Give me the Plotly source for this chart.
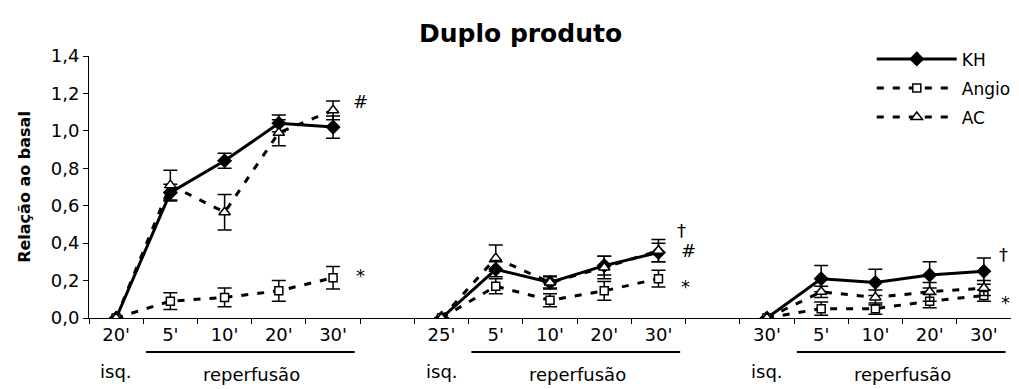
import plotly.graph_objects as go

categories = ["20'", "5'", "10'", "20'", "30'", "", "25'", "5'", "10'", "20'", "30'", "", "30'", "5'", "10'", "20'", "30'"]

kh = [0, 0.67, 0.84, 1.04, 1.02, None, 0, 0.26, 0.19, 0.28, 0.35, None, 0, 0.21, 0.19, 0.23, 0.25]
kh_err = [0, 0.045, 0.04, 0.045, 0.06, None, 0, 0.04, 0.035, 0.05, 0.05, None, 0, 0.07, 0.07, 0.07, 0.07]

angio = [0, 0.09, 0.11, 0.145, 0.215, None, 0, 0.17, 0.095, 0.145, 0.21, None, 0, 0.05, 0.05, 0.09, 0.12]
angio_err = [0, 0.045, 0.05, 0.055, 0.06, None, 0, 0.04, 0.035, 0.05, 0.045, None, 0, 0.035, 0.03, 0.035, 0.03]

ac = [0, 0.71, 0.565, 0.99, 1.11, None, 0, 0.32, 0.19, 0.27, 0.36, None, 0, 0.14, 0.11, 0.14, 0.16]
ac_err = [0, 0.08, 0.095, 0.07, 0.05, None, 0, 0.07, 0.03, 0.06, 0.06, None, 0, 0.03, 0.04, 0.05, 0.04]

# significance marks: (x position in category units, y value, text)
marks = [(4.5, 1.155, "#"), (4.5, 0.225, "*"),
         (10.42, 0.47, "†"), (10.55, 0.36, "#"), (10.5, 0.17, "*"),
         (16.37, 0.34, "†"), (16.4, 0.085, "*")]

group_starts = [0, 6, 12]

x = list(range(len(categories)))
FONT = "DejaVu Sans, Liberation Sans, Arial, sans-serif"

fig = go.Figure()

def add(name, y, err, symbol, size, dash, fill):
    fig.add_trace(go.Scatter(
        x=x, y=y, name=name, mode="lines+markers", connectgaps=False,
        legendgroup=name,
        line=dict(color="black", width=3, dash=dash),
        marker=dict(symbol=symbol, size=size, color=fill,
                    line=dict(color="black", width=1.5)),
        error_y=dict(type="data", array=err, visible=True, color="black",
                     thickness=1.5, width=7),
    ))

add("KH", kh, kh_err, "diamond", 10, "solid", "black")
add("Angio", angio, angio_err, "square", 8, "7px,9px", "white")
add("AC", ac, ac_err, "triangle-up", 10, "7px,9px", "white")

for mx, my, t in marks:
    fig.add_annotation(x=mx, y=my, xref="x", yref="y", text=t, showarrow=False,
                       xanchor="center", yanchor="middle",
                       font=dict(family=FONT, size=18, color="black"))

for g in group_starts:
    fig.add_shape(type="line", xref="x", yref="paper", x0=g + 0.55, x1=g + 4.4,
                  y0=-0.13, y1=-0.13, line=dict(color="black", width=2))
    fig.add_annotation(x=g, y=-0.203, xref="x", yref="paper", text="isq.",
                       showarrow=False, yanchor="middle",
                       font=dict(family=FONT, size=18, color="black"))
    fig.add_annotation(x=g + 2.5, y=-0.217, xref="x", yref="paper", text="reperfusão",
                       showarrow=False, yanchor="middle",
                       font=dict(family=FONT, size=18, color="black"))

# page body adds an 8px offset, so the figure is 8px smaller on each axis
fig.update_layout(
    width=1011, height=381,
    margin=dict(l=81, r=3, t=48, b=71),
    paper_bgcolor="white", plot_bgcolor="white",
    separators=",.",
    font=dict(family=FONT, size=18, color="black"),
    title=dict(text="<b>Duplo produto</b>", x=0.507, xanchor="center", y=0.934, yanchor="middle",
               font=dict(family=FONT, size=25, color="black")),
    showlegend=True,
    legend=dict(x=0.849, y=1.056, xanchor="left", yanchor="top", itemwidth=80,
                tracegroupgap=4, traceorder="grouped",
                bgcolor="rgba(0,0,0,0)", font=dict(family=FONT, size=17, color="black")),
    xaxis=dict(range=[-0.5, 16.5], tickmode="array", tickvals=x, ticktext=categories,
               ticks="", ticklabelstandoff=0, showgrid=False, zeroline=False,
               showline=True, linecolor="black", linewidth=1,
               tickfont=dict(family=FONT, size=18, color="black"),
               minor=dict(tickmode="array", tickvals=[k - 0.5 for k in range(18)],
                          ticks="outside", ticklen=5, tickcolor="black", tickwidth=1,
                          showgrid=False)),
    yaxis=dict(range=[0, 1.4], tickmode="linear", tick0=0, dtick=0.2, tickformat=".1f",
               ticks="outside", ticklen=5, tickcolor="black", showgrid=False, zeroline=False,
               showline=True, linecolor="black", linewidth=1,
               tickfont=dict(family=FONT, size=18, color="black"),
               title=dict(text="<b>Relação ao basal</b>", standoff=16,
                          font=dict(family=FONT, size=16, color="black"))),
)

fig.write_html("out.html")
